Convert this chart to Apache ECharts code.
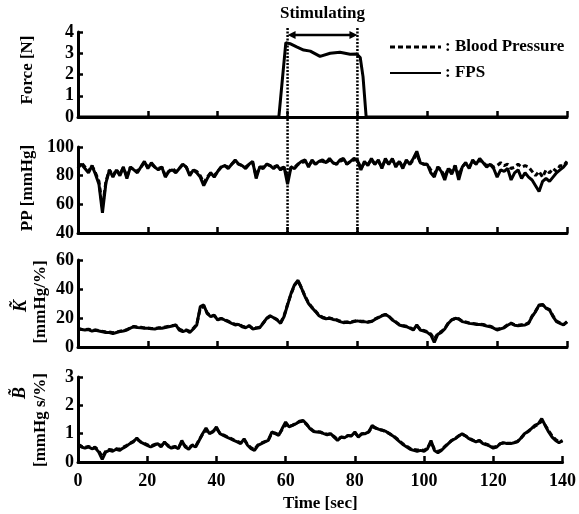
<!DOCTYPE html>
<html>
<head>
<meta charset="utf-8">
<script src="https://cdn.jsdelivr.net/npm/echarts@6/dist/echarts.min.js"></script>
<style>html,body{margin:0;padding:0;background:#fff;}#c{width:579px;height:514px;}</style>
</head>
<body>
<div id="c"></div>
<script>
// ---- data (one sample per second, 0..140 s) ----
const xTicks = [0, 20, 40, 60, 80, 100, 120, 140];
const stimStart = 60, stimEnd = 80;
const legendNames = ['Blood Pressure', 'FPS'];

const forceTime = [0, 10, 20, 30, 40, 50, 57.5, 59.5, 60.7, 62.6, 64.6, 66.5, 69.3, 72.2, 75, 77.9, 79.8, 80.8, 81.6, 82.5, 90, 100, 110, 120, 130, 140];
const forceVal  = [0, 0, 0, 0, 0, 0, 0, 3.5, 3.45, 3.3, 3.15, 3.1, 2.85, 3.0, 3.05, 2.95, 2.96, 2.8, 1.9, 0, 0, 0, 0, 0, 0, 0];

const ppFPS = [86,88,85,82,87,81,74,54,75,84,79,84,80,86,78,86,84,82,86,90,85,89,86,84,86,79,83,84,82,85,88,86,80,84,82,79,73,78,82,79,83,86,87,85,88,91,88,87,85,88,90,78,86,85,88,87,85,87,84,86,74,86,85,88,90,91,86,91,88,90,91,89,92,89,88,91,92,88,90,92,91,84,90,87,92,88,91,85,92,88,92,86,90,85,91,88,92,97,89,88,88,82,79,86,83,77,85,81,87,77,86,89,85,91,88,92,89,86,88,85,79,84,83,85,77,82,84,78,82,79,77,73,69,76,78,76,79,82,84,86,89];
const ppBP  = [85,89,86,83,87,82,76,58,76,84,80,84,81,86,79,86,84,83,86,89,86,88,86,85,86,80,83,85,83,85,88,86,81,84,83,80,75,79,82,80,83,86,87,86,88,90,88,87,86,88,89,80,86,86,88,87,86,87,85,86,78,86,86,88,89,90,87,90,88,90,90,89,91,89,88,90,91,88,90,91,91,85,89,88,91,88,90,86,91,88,91,87,90,86,90,88,91,95,89,88,88,84,81,86,84,79,85,83,87,80,86,89,86,90,88,91,89,87,88,86,87,89,87,88,85,86,88,86,87,86,83,80,83,79,84,82,85,83,87,87,90];

const kFPS = [12.4,12,11.7,12,11,11.5,11,10.5,10,10,9.2,10,10.6,11,11.7,13,14,13.5,13.3,13,12.9,12.5,12.4,13,12.9,13.5,14,14.5,15.2,11.7,10.6,11.5,10,12.4,15.2,27.8,29,23,21,22,18.6,19.8,18.6,17.5,16.3,15.2,15.6,14,13.3,14.7,12.4,12.9,13.3,16.3,19.8,21.6,20.2,18.6,16.3,21,29,37,43,46,40.5,34.7,30,27,24.4,21.6,20.2,19.5,19.8,19,18.6,17.5,16.8,17,16.8,17.5,18,17.5,17.5,17,17.5,19,20.2,21.5,22.5,21,18.6,17,15.2,14.5,14,13,11.7,15.2,11.7,11,10.1,8.3,3.2,8.7,10.1,12.4,16.3,18.6,19.8,19.3,17.5,17,16.3,16,15.6,15.5,15.2,14.5,14,13,11.7,12.5,13.3,15,16.3,15,14.7,15,15.2,16.3,21,24.4,29,29.4,26.7,25.5,21,17.5,16.3,15.2,17.5];
const kBP  = [12.8,12.3,11.9,12.3,11.4,11.8,11.3,10.8,10.4,10.3,9.8,10.3,10.9,11.4,12,13.2,14.2,13.8,13.6,13.2,13.2,12.8,12.7,13.2,13.3,13.8,14.3,14.8,15,12.4,11.2,11.8,10.8,12.8,15.8,26.5,28.2,23.5,21.5,21.6,19,19.6,18.9,17.8,16.6,15.6,15.8,14.4,13.8,14.6,12.9,13.2,13.6,16.6,19.5,21.2,20.4,18.9,16.8,21.5,29.5,36.5,42.5,45.5,40.8,35,30.5,27.3,24.8,22,20.6,19.8,20,19.4,18.9,17.9,17.2,17.3,17.2,17.8,18.3,17.8,17.8,17.4,17.8,19.3,20.5,21.8,22.3,21.2,18.9,17.3,15.6,14.8,14.3,13.4,12.2,14.6,12.1,11.4,10.6,9,5.5,9.2,10.6,12.8,16.5,18.8,19.6,19.5,17.8,17.3,16.6,16.3,15.9,15.8,15.5,14.8,14.3,13.4,12.2,12.8,13.6,15.3,16.5,15.3,15,15.3,15.5,16.6,21.3,24.8,28.6,29,27,25.8,21.4,17.9,16.7,15.6,17.2];

const bFPS = [0.59,0.53,0.49,0.53,0.47,0.49,0.35,0.09,0.35,0.41,0.38,0.45,0.41,0.49,0.56,0.65,0.71,0.85,0.71,0.65,0.59,0.53,0.59,0.65,0.53,0.71,0.56,0.49,0.53,0.47,0.76,0.53,0.45,0.59,0.53,0.76,1.0,1.2,1.0,1.06,1.24,1.0,0.94,0.88,0.82,0.76,0.71,0.65,0.82,0.59,0.47,0.41,0.59,0.65,0.71,0.76,1.06,1.0,0.94,1.18,1.41,1.24,1.29,1.35,1.44,1.47,1.35,1.18,1.08,1.06,1.06,1.0,0.96,1.0,0.88,0.76,0.88,0.85,0.94,0.92,1.06,0.88,1.0,1.0,1.06,1.29,1.2,1.15,1.12,1.08,1.0,0.92,0.82,0.71,0.61,0.53,0.45,0.41,0.38,0.41,0.38,0.47,0.76,0.41,0.33,0.41,0.53,0.65,0.76,0.82,0.92,1.0,0.92,0.82,0.76,0.71,0.76,0.65,0.61,0.56,0.49,0.53,0.65,0.68,0.65,0.65,0.68,0.71,0.85,1.0,1.08,1.18,1.29,1.35,1.53,1.29,1.06,0.88,0.76,0.68,0.76];
const bBP  = [0.62,0.56,0.52,0.55,0.5,0.52,0.4,0.18,0.38,0.44,0.42,0.47,0.45,0.52,0.58,0.66,0.73,0.8,0.72,0.67,0.61,0.56,0.61,0.66,0.57,0.68,0.59,0.52,0.55,0.5,0.7,0.56,0.49,0.6,0.56,0.78,0.98,1.12,1.02,1.08,1.18,1.02,0.96,0.9,0.84,0.78,0.73,0.68,0.78,0.62,0.5,0.45,0.6,0.67,0.72,0.78,1.02,1.02,0.96,1.15,1.32,1.26,1.3,1.36,1.42,1.44,1.33,1.2,1.1,1.07,1.05,1.01,0.98,0.99,0.9,0.8,0.87,0.87,0.93,0.93,1.02,0.9,0.99,1.01,1.06,1.24,1.2,1.14,1.12,1.07,1.0,0.93,0.84,0.73,0.63,0.56,0.48,0.44,0.42,0.43,0.41,0.49,0.7,0.45,0.37,0.43,0.55,0.66,0.76,0.83,0.92,0.98,0.92,0.84,0.78,0.73,0.75,0.67,0.63,0.58,0.52,0.55,0.64,0.68,0.66,0.66,0.69,0.73,0.84,0.98,1.07,1.16,1.26,1.33,1.45,1.3,1.1,0.92,0.8,0.71,0.74];

// ---- chart ----
const FONT = 'Liberation Serif';
const pairs = arr => arr.map((v, i) => [i, v]);
const black = '#000';
const LW = 3;
const DASH = [5, 3];

function xAx(g, showLabels) {
  return {
    type: 'value', gridIndex: g, min: 0, max: 140, interval: 20,
    axisLine: { show: true, onZero: false, lineStyle: { color: black, width: 3 } },
    axisTick: { show: true, inside: true, length: 6, lineStyle: { color: black, width: 2.5 } },
    axisLabel: { show: showLabels, margin: 10, color: black, fontFamily: FONT, fontWeight: 'bold', fontSize: 18 },
    splitLine: { show: false },
    name: showLabels ? 'Time [sec]' : '',
    nameLocation: 'middle', nameGap: 33,
    nameTextStyle: { color: black, fontFamily: FONT, fontWeight: 'bold', fontSize: 17 }
  };
}
function yAx(g, min, max, interval) {
  return {
    type: 'value', gridIndex: g, min, max, interval,
    axisLine: { show: true, lineStyle: { color: black, width: 3 } },
    axisTick: { show: true, inside: true, length: 5, lineStyle: { color: black, width: 2.5 } },
    axisLabel: { margin: 4, color: black, fontFamily: FONT, fontWeight: 'bold', fontSize: 18 },
    splitLine: { show: false }
  };
}
function line(name, g, data, dashed) {
  return {
    name, type: 'line', xAxisIndex: g, yAxisIndex: g, data, symbol: 'none',
    lineStyle: { color: black, width: LW, type: dashed ? DASH : 'solid' },
    itemStyle: { color: black }, animation: false
  };
}

const chart = echarts.init(document.getElementById('c'), null, { renderer: 'canvas' });
chart.setOption({
  backgroundColor: '#fff',
  animation: false,
  grid: [
    { left: 78, right: 12, top: 32, height: 85 },
    { left: 78, right: 12, top: 147, height: 86 },
    { left: 78, right: 12, top: 260, height: 87 },
    { left: 78, right: 12, top: 377, height: 85 }
  ],
  xAxis: [xAx(0, false), xAx(1, false), xAx(2, false), xAx(3, true)],
  yAxis: [yAx(0, 0, 4, 1), yAx(1, 40, 100, 20), yAx(2, 0, 60, 20), yAx(3, 0, 3, 1)],
  series: [
    line('Force', 0, forceTime.map((t, i) => [t, forceVal[i]]), false),
    line(legendNames[0], 1, pairs(ppBP), true),
    line(legendNames[1], 1, pairs(ppFPS), false),
    line(legendNames[0], 2, pairs(kBP), true),
    line(legendNames[1], 2, pairs(kFPS), false),
    line(legendNames[0], 3, pairs(bBP), true),
    line(legendNames[1], 3, pairs(bFPS), false)
  ]
});

// annotations positioned through the axes
const xa = chart.convertToPixel({ gridIndex: 0 }, [stimStart, 4]);
const xb = chart.convertToPixel({ gridIndex: 0 }, [stimEnd, 4]);
const yBot = chart.convertToPixel({ gridIndex: 1 }, [stimStart, 40])[1];
const yTop = xa[1] - 4;
const ay = 35;
const tStyle = (txt, size, extra) => Object.assign({ text: txt, fill: black, font: 'bold ' + size + 'px "' + FONT + '"', textAlign: 'center', textVerticalAlign: 'middle' }, extra || {});
const lStyle = (txt) => ({ text: txt, fill: black, font: 'bold 17px "' + FONT + '"', textAlign: 'left', textVerticalAlign: 'middle' });
const rot = Math.PI / 2;

chart.setOption({
  graphic: [
    { type: 'line', shape: { x1: xa[0], y1: yTop, x2: xa[0], y2: yBot }, style: { stroke: black, lineWidth: 2.5, lineDash: [2, 1.5] }, z: 10 },
    { type: 'line', shape: { x1: xb[0], y1: yTop, x2: xb[0], y2: yBot }, style: { stroke: black, lineWidth: 2.5, lineDash: [2, 1.5] }, z: 10 },
    { type: 'line', shape: { x1: xa[0] + 4, y1: ay, x2: xb[0] - 4, y2: ay }, style: { stroke: black, lineWidth: 2.5 }, z: 10 },
    { type: 'polygon', shape: { points: [[xa[0], ay], [xa[0] + 8, ay - 4], [xa[0] + 8, ay + 4]] }, style: { fill: black }, z: 10 },
    { type: 'polygon', shape: { points: [[xb[0], ay], [xb[0] - 8, ay - 4], [xb[0] - 8, ay + 4]] }, style: { fill: black }, z: 10 },
    { type: 'text', x: (xa[0] + xb[0]) / 2, y: 14, style: tStyle('Stimulating', 17) },
    // legend
    { type: 'line', shape: { x1: 390, y1: 47, x2: 441, y2: 47 }, style: { stroke: black, lineWidth: LW, lineDash: DASH } },
    { type: 'text', x: 445, y: 47, style: lStyle(': ' + legendNames[0]) },
    { type: 'line', shape: { x1: 390, y1: 73, x2: 441, y2: 73 }, style: { stroke: black, lineWidth: 2 } },
    { type: 'text', x: 445, y: 73, style: lStyle(': ' + legendNames[1]) },
    // axis names
    { type: 'text', x: 28, y: 70, rotation: rot, style: tStyle('Force [N]', 17) },
    { type: 'text', x: 28, y: 188, rotation: rot, style: tStyle('PP [mmHg]', 17) },
    { type: 'text', x: 21, y: 306, rotation: rot, style: tStyle('K\u0303', 18, { font: 'italic bold 18px "' + FONT + '"' }) },
    { type: 'text', x: 41, y: 302, rotation: rot, style: tStyle('[mmHg/%]', 17) },
    { type: 'text', x: 20, y: 393, rotation: rot, style: tStyle('B\u0303', 18, { font: 'italic bold 18px "' + FONT + '"' }) },
    { type: 'text', x: 41, y: 420, rotation: rot, style: tStyle('[mmHg s/%]', 17) }
  ]
});
</script>
</body>
</html>
